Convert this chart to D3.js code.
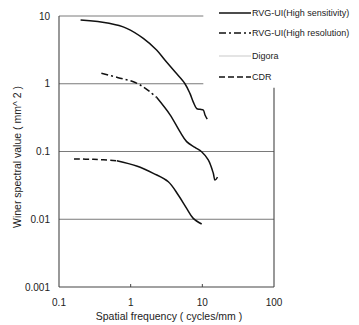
<!DOCTYPE html>
<html>
<head>
<meta charset="utf-8">
<script src="https://cdn.jsdelivr.net/npm/d3@7/dist/d3.min.js"></script>
<style>
  html, body { margin: 0; padding: 0; background: #fff; }
  svg { display: block; font-family: Arial, "Liberation Sans", sans-serif; }
</style>
</head>
<body>
<svg id="chart" width="359" height="325"></svg>
<script>
// Spatial frequency (cycles/mm) and Wiener spectral value (mm^2) per detector
const hsFreq = [0.2, 0.5, 0.88, 1.5, 2.3, 3.0, 4.15, 5.72, 6.71, 7.46, 8.35, 9.27, 10.3, 10.9, 11.7];
const hsValue = [8.7, 7.8, 6.58, 4.68, 3.15, 2.24, 1.5, 1.0, 0.72, 0.54, 0.43, 0.42, 0.41, 0.346, 0.30];

const hrFreq = [0.39, 0.67, 1.09, 1.5, 1.86, 2.3, 3.53, 4.87, 6.04, 7.89, 9.77, 12.1, 14.2, 15.0, 16.3];
const hrValue = [1.43, 1.23, 1.07, 0.9, 0.76, 0.63, 0.35, 0.196, 0.14, 0.115, 0.099, 0.075, 0.048, 0.038, 0.042];
const hrDashedCount = 6; // leading points drawn dash-dot

const cdrFreq = [0.162, 0.301, 0.64, 1.21, 2.07, 3.35, 4.61, 6.04, 7.47, 9.79];
const cdrValue = [0.0774, 0.0767, 0.073, 0.061, 0.0476, 0.0358, 0.0228, 0.0145, 0.0103, 0.0085];
const cdrDashedCount = 3;

const yTicks = [10, 1, 0.1, 0.01, 0.001];
const yTickLabels = ["10", "1", "0.1", "0.01", "0.001"];
const xTicks = [0.1, 1, 10, 100];
const xTickLabels = ["0.1", "1", "10", "100"];

const legendNames = ["RVG-UI(High sensitivity)", "RVG-UI(High resolution)", "Digora", "CDR"];

const svg = d3.select("#chart");
const x = d3.scaleLog().domain([0.1, 100]).range([59, 274]);
const y = d3.scaleLog().domain([0.001, 10]).range([287, 16]);

// Horizontal grid: upper two lines stop at 10 cycles/mm where the legend sits
const grid = svg.append("g");
yTicks.slice(0, 4).forEach((v, i) => {
  grid.append("line")
    .attr("x1", x(0.1)).attr("x2", i < 2 ? x(10) + 1 : x(100))
    .attr("y1", y(v)).attr("y2", y(v))
    .attr("stroke", "#7a7a7a").attr("stroke-width", 1);
});

// Frame: left, bottom, partial right
const frame = svg.append("g").attr("stroke", "#444").attr("stroke-width", 1.1);
frame.append("line").attr("x1", x(0.1)).attr("x2", x(0.1)).attr("y1", y(10)).attr("y2", y(0.001));
frame.append("line").attr("x1", x(0.1)).attr("x2", x(100)).attr("y1", y(0.001)).attr("y2", y(0.001));
frame.append("line").attr("x1", x(100)).attr("x2", x(100)).attr("y1", y(1) + 4).attr("y2", y(0.001));

// Small inward ticks on the frequency axis
[1, 10].forEach(t => {
  svg.append("line").attr("x1", x(t)).attr("x2", x(t))
    .attr("y1", y(0.001)).attr("y2", y(0.001) - 3)
    .attr("stroke", "#444").attr("stroke-width", 1);
});

// Tick labels
svg.append("g").selectAll("text").data(yTicks).join("text")
  .attr("x", 50).attr("y", d => y(d)).attr("dy", "0.35em")
  .attr("text-anchor", "end").attr("font-size", 10).attr("fill", "#222")
  .text((d, i) => yTickLabels[i]);
svg.append("g").selectAll("text").data(xTicks).join("text")
  .attr("x", d => x(d)).attr("y", 306)
  .attr("text-anchor", "middle").attr("font-size", 10).attr("fill", "#222")
  .text((d, i) => xTickLabels[i]);

// Axis titles
svg.append("text")
  .attr("x", 169).attr("y", 320).attr("text-anchor", "middle")
  .attr("font-size", 10.5).attr("fill", "#222")
  .text("Spatial frequency ( cycles/mm )");
svg.append("text")
  .attr("transform", "translate(21,157) rotate(-90)")
  .attr("text-anchor", "middle").attr("font-size", 10.5).attr("fill", "#222")
  .text("Winer spectral value ( mm^ 2 )");

// Curves
const line = d3.line().x(d => x(d[0])).y(d => y(d[1])).curve(d3.curveCatmullRom.alpha(0.5));
const curves = svg.append("g").attr("fill", "none").attr("stroke", "#111").attr("stroke-width", 1.5);

const hs = hsFreq.map((f, i) => [f, hsValue[i]]);
curves.append("path").attr("d", line(hs));

const hr = hrFreq.map((f, i) => [f, hrValue[i]]);
curves.append("path").attr("d", line(hr.slice(0, hrDashedCount)))
  .attr("stroke-dasharray", "7,3,2,3");
curves.append("path").attr("d", line(hr.slice(hrDashedCount - 1)));

const cdr = cdrFreq.map((f, i) => [f, cdrValue[i]]);
curves.append("path").attr("d", line(cdr.slice(0, cdrDashedCount)))
  .attr("stroke-dasharray", "6,3");
curves.append("path").attr("d", line(cdr.slice(cdrDashedCount - 1)));

// Legend
const legendY = [13, 33, 56, 77];
const legendStyles = [
  { dash: null, color: "#111", width: 1.5 },
  { dash: "7,3,2,3", color: "#111", width: 1.5 },
  { dash: null, color: "#bbb", width: 0.8 },
  { dash: "6,3", color: "#111", width: 1.5 }
];
const legend = svg.append("g");
legendNames.forEach((name, i) => {
  const s = legendStyles[i];
  legend.append("line")
    .attr("x1", 219).attr("x2", 251).attr("y1", legendY[i]).attr("y2", legendY[i])
    .attr("stroke", s.color).attr("stroke-width", s.width)
    .attr("stroke-dasharray", s.dash);
  legend.append("text")
    .attr("x", 252).attr("y", legendY[i]).attr("dy", "0.35em")
    .attr("font-size", 9).attr("fill", "#222")
    .text(name);
});
</script>
</body>
</html>
